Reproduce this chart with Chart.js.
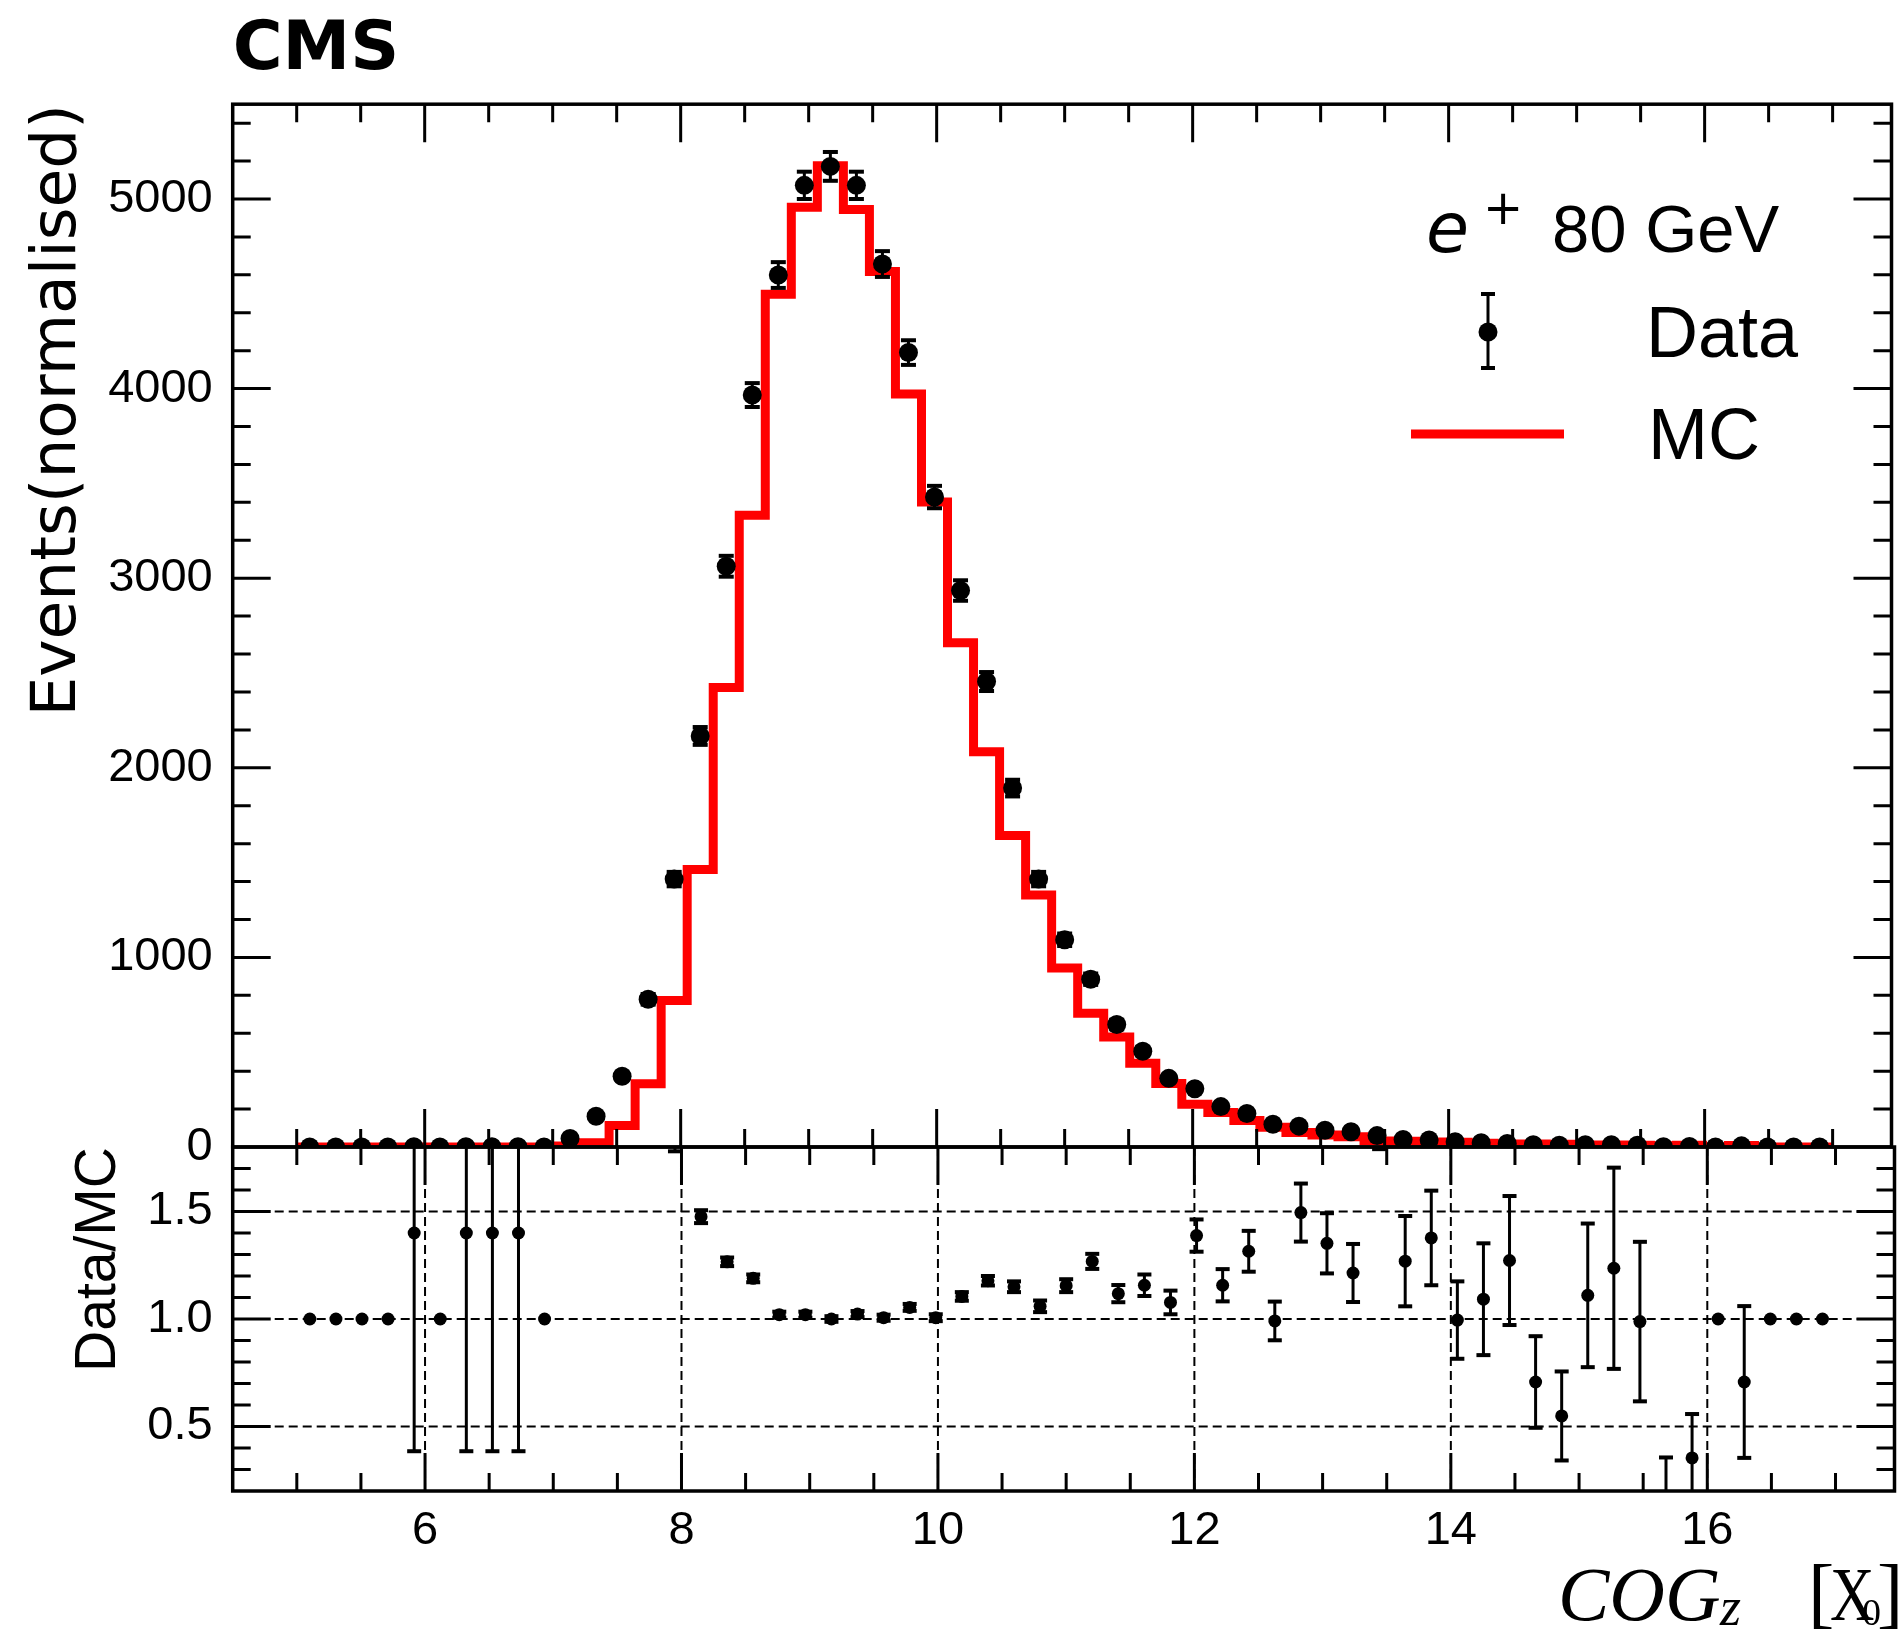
<!DOCTYPE html>
<html>
<head>
<meta charset="utf-8">
<script src="https://cdn.jsdelivr.net/npm/chart.js@4.4.1/dist/chart.umd.min.js"></script>
<style>
html,body{margin:0;padding:0;background:#fff;}
#wrap{position:relative;width:1901px;height:1631px;overflow:hidden;background:#fff;}
#mainWrap{position:absolute;left:0;top:0;width:1901px;height:1200px;}
#ratioWrap{position:absolute;left:0;top:1090px;width:1901px;height:541px;}
canvas{display:block;}
</style>
</head>
<body>
<div id="wrap">
  <div id="mainWrap"><canvas id="main" width="1901" height="1200"></canvas></div>
  <div id="ratioWrap"><canvas id="ratio" width="1901" height="541"></canvas></div>
</div>
<script>
// ---------------- data ----------------
const BIN_LOW = 5, BIN_HIGH = 17, N_BINS = 59;

const dataValues = [
  0, 0, 0, 0, 1.4, 0, 1.4, 1.4, 1.4, 0,
  45, 162, 373, 779, 1413, 2168, 3063, 3966, 4599, 5072,
  5172, 5072, 4657, 4190, 3428, 2935, 2455, 1893, 1413, 1093,
  885, 646, 505, 362, 307, 213, 177, 120, 110, 88,
  80, 60, 40, 37, 28, 22, 18, 12, 9, 12,
  12, 9, 1, 3, 0, 6, 0, 0, 0
];
const dataErrors = [
  0, 0, 0, 0, 1, 0, 1, 1, 1, 0,
  7, 13, 19, 28, 38, 47, 55, 63, 68, 72,
  76, 72, 68, 65, 59, 54, 50, 44, 38, 33,
  30, 25, 22, 19, 17, 15, 13, 11, 11, 9,
  9, 8, 6, 6, 5, 5, 4, 3, 3, 3,
  3, 3, 1, 2, 0, 3, 0, 0, 0
];
const mcValues = [
  0, 0, 0, 0, 0, 0, 0, 0, 0, 0,
  5, 23, 114, 334, 773, 1464, 2424, 3332, 4497, 4957,
  5175, 4944, 4618, 3972, 3402, 2660, 2085, 1643, 1329, 944,
  705, 580, 442, 335, 226, 182, 140, 104, 76, 63,
  54, 32, 30, 27, 25, 20, 15, 16, 15, 11,
  10, 9, 6, 9, 0, 8, 0, 0, 0
];
const ratioValues = [
  1.0, 1.0, 1.0, 1.0, 1.40, 1.0, 1.40, 1.40, 1.40, 1.0,
  9.0, 7.0, 3.27, 2.33, 1.83, 1.476, 1.266, 1.189, 1.020, 1.020,
  1.000, 1.023, 1.006, 1.054, 1.006, 1.105, 1.178, 1.150, 1.059, 1.155,
  1.268, 1.118, 1.157, 1.077, 1.388, 1.157, 1.315, 0.991, 1.495, 1.352,
  1.214, 1.97, 1.269, 1.377, 0.995, 1.092, 1.272, 0.707, 0.549, 1.110,
  1.236, 0.988, 0.10, 0.354, 1.0, 0.707, 1.0, 1.0, 1.0
];
const ratioErrors = [
  0, 0, 0, 0, 1.015, 0, 1.015, 1.015, 1.015, 0,
  2.0, 1.0, 0.2, 0.1, 0.05, 0.03, 0.02, 0.018, 0.014, 0.014,
  0.013, 0.014, 0.014, 0.016, 0.016, 0.02, 0.022, 0.025, 0.027, 0.03,
  0.035, 0.04, 0.05, 0.055, 0.075, 0.075, 0.095, 0.09, 0.135, 0.14,
  0.135, 0.18, 0.21, 0.22, 0.18, 0.26, 0.30, 0.213, 0.207, 0.334,
  0.468, 0.371, 0.256, 0.204, 0, 0.353, 0, 0, 0
];

const xTickValues = [6, 8, 10, 12, 14, 16];
const yTickValues = [0, 1000, 2000, 3000, 4000, 5000];
const ratioTickValues = [0.5, 1.0, 1.5];

const legendHeader = { particle: 'e', charge: '+', energy: '80 GeV' };
const legendLabels = ['Data', 'MC'];

const X_MIN = 4.5, X_MAX = 17.46;
const Y_MIN = 0, Y_MAX = 5500;
const R_MIN = 0.2, R_MAX = 1.8;

// ---------------- derived bin geometry ----------------
const binWidth = (BIN_HIGH - BIN_LOW) / N_BINS;
const binCenters = dataValues.map((_, i) => BIN_LOW + (i + 0.5) * binWidth);
const binEdges = Array.from({ length: N_BINS + 1 }, (_, i) => BIN_LOW + i * binWidth);
const mcStep = mcValues.map((v, i) => ({ x: binEdges[i], y: v }))
  .concat([{ x: binEdges[N_BINS], y: mcValues[N_BINS - 1] }]);

const LEFT_W = 232.7;
const BLACK = '#000000';
const RED = '#ff0000';

// ---------------- plugins ----------------
function makeFramePlugin(cfg) {
  return {
    id: 'frame_' + cfg.name,
    afterDraw(chart) {
      const { ctx, chartArea: a, scales } = chart;
      const xs = scales.x, ys = scales.y;
      const near = (arr, v) => arr.some(m => Math.abs(m - v) < 1e-6);
      ctx.save();
      ctx.strokeStyle = BLACK;
      ctx.lineCap = 'butt';
      ctx.lineWidth = 3;
      ctx.beginPath();
      for (let k = Math.ceil(xs.min / cfg.xMinor - 1e-9); k * cfg.xMinor <= xs.max + 1e-9; k++) {
        const v = k * cfg.xMinor;
        const px = xs.getPixelForValue(v);
        if (px < a.left + 3 || px > a.right - 3) continue;
        const len = near(cfg.xMajor, v) ? cfg.majorLen : cfg.minorLen;
        ctx.moveTo(px, a.top); ctx.lineTo(px, a.top + len);
        ctx.moveTo(px, a.bottom); ctx.lineTo(px, a.bottom - len);
      }
      for (let k = Math.ceil(ys.min / cfg.yMinor - 1e-9); k * cfg.yMinor <= ys.max + 1e-9; k++) {
        const v = k * cfg.yMinor;
        const py = ys.getPixelForValue(v);
        if (py < a.top + 3 || py > a.bottom - 3) continue;
        const len = near(cfg.yMajor, v) ? cfg.majorLen : cfg.minorLen;
        ctx.moveTo(a.left, py); ctx.lineTo(a.left + len, py);
        ctx.moveTo(a.right, py); ctx.lineTo(a.right - len, py);
      }
      ctx.stroke();
      ctx.lineWidth = 3.5;
      ctx.strokeRect(a.left, a.top, a.right - a.left, a.bottom - a.top);
      ctx.restore();
    }
  };
}

function makeErrorBarPlugin(name, values, errors, style) {
  return {
    id: 'errbars_' + name,
    afterDatasetsDraw(chart) {
      const { ctx, chartArea: a, scales } = chart;
      const xs = scales.x, ys = scales.y;
      ctx.save();
      ctx.beginPath();
      ctx.rect(a.left, a.top, a.right - a.left, a.bottom - a.top);
      ctx.clip();
      ctx.strokeStyle = BLACK;
      ctx.fillStyle = BLACK;
      ctx.lineWidth = style.lineWidth;
      values.forEach((v, i) => {
        const e = errors[i];
        if (v === null || !e) return;
        const px = xs.getPixelForValue(binCenters[i]);
        const pTop = ys.getPixelForValue(v + e);
        const pBot = ys.getPixelForValue(v - e);
        ctx.beginPath();
        ctx.moveTo(px, pTop); ctx.lineTo(px, pBot);
        ctx.stroke();
        if (Math.abs(pBot - pTop) > 2 * style.minBar) {
          ctx.fillRect(px - style.capW / 2, pTop - style.capT / 2, style.capW, style.capT);
          ctx.fillRect(px - style.capW / 2, pBot - style.capT / 2, style.capW, style.capT);
        }
      });
      ctx.restore();
    }
  };
}

const ratioGridPlugin = {
  id: 'ratioGrid',
  beforeDatasetsDraw(chart) {
    const { ctx, chartArea: a, scales } = chart;
    ctx.save();
    ctx.strokeStyle = BLACK;
    ctx.lineWidth = 2;
    ctx.setLineDash([9, 5]);
    xTickValues.forEach(v => {
      const px = scales.x.getPixelForValue(v);
      ctx.beginPath(); ctx.moveTo(px, a.top); ctx.lineTo(px, a.bottom); ctx.stroke();
    });
    ratioTickValues.forEach(v => {
      const py = scales.y.getPixelForValue(v);
      ctx.beginPath(); ctx.moveTo(a.left, py); ctx.lineTo(a.right, py); ctx.stroke();
    });
    ctx.restore();
  }
};

const legendPlugin = {
  id: 'hepLegend',
  afterDraw(chart) {
    const ctx = chart.ctx;
    ctx.save();
    ctx.fillStyle = BLACK;
    ctx.textAlign = 'left';
    ctx.textBaseline = 'alphabetic';
    ctx.font = 'italic 70px "DejaVu Sans"';
    ctx.fillText(legendHeader.particle, 1426, 252);
    ctx.font = '48px "DejaVu Sans"';
    ctx.textAlign = 'center';
    ctx.textBaseline = 'middle';
    ctx.fillText(legendHeader.charge, 1503, 212);
    ctx.textAlign = 'left';
    ctx.textBaseline = 'alphabetic';
    ctx.font = '67px "Liberation Sans"';
    ctx.fillText(legendHeader.energy, 1552, 252);

    // Data entry
    ctx.strokeStyle = BLACK;
    ctx.lineWidth = 3;
    ctx.beginPath(); ctx.moveTo(1488, 294); ctx.lineTo(1488, 368); ctx.stroke();
    ctx.fillRect(1481, 292, 14, 4);
    ctx.fillRect(1481, 366, 14, 4);
    ctx.beginPath(); ctx.arc(1488, 332, 9.5, 0, Math.PI * 2); ctx.fill();
    ctx.font = '72px "Liberation Sans"';
    ctx.fillText(legendLabels[0], 1646, 357);

    // MC entry
    ctx.fillStyle = RED;
    ctx.fillRect(1411, 429.5, 153, 9);
    ctx.fillStyle = BLACK;
    ctx.fillText(legendLabels[1], 1648, 459);
    ctx.restore();
  }
};

const xTitlePlugin = {
  id: 'xTitle',
  afterDraw(chart) {
    const ctx = chart.ctx;
    const base = 530;
    ctx.save();
    ctx.fillStyle = BLACK;
    ctx.textBaseline = 'alphabetic';
    ctx.textAlign = 'left';
    ctx.font = 'italic 77px "Liberation Serif"';
    ctx.fillText('COG', 1558, base);
    ctx.font = 'italic 54px "Liberation Serif"';
    ctx.fillText('z', 1720, base + 5);
    ctx.font = '79px "Liberation Serif"';
    ctx.fillText('[', 1808, base - 1.5);
    ctx.save();
    ctx.translate(1830, base);
    ctx.scale(0.8, 1);
    ctx.font = '77px "Liberation Serif"';
    ctx.fillText('X', 0, 0);
    ctx.restore();
    ctx.font = '38px "Liberation Serif"';
    ctx.fillText('0', 1862, base + 5);
    ctx.font = '79px "Liberation Serif"';
    ctx.fillText(']', 1877, base - 1.5);
    ctx.restore();
  }
};

const tickFont = { family: '"Liberation Sans"', size: 47, lineHeight: 1.2 };

// ---------------- main panel ----------------
new Chart(document.getElementById('main'), {
  type: 'line',
  data: {
    datasets: [
      {
        label: legendLabels[0],
        data: dataValues.map((v, i) => ({ x: binCenters[i], y: v })),
        showLine: false,
        pointStyle: 'circle',
        pointRadius: 9.5,
        pointHoverRadius: 9.5,
        pointBackgroundColor: BLACK,
        pointBorderWidth: 0,
        borderColor: BLACK,
        clip: 0,
        order: 0
      },
      {
        label: legendLabels[1],
        data: mcStep,
        stepped: true,
        borderColor: RED,
        borderWidth: 9,
        borderJoinStyle: 'miter',
        borderCapStyle: 'butt',
        pointRadius: 0,
        fill: false,
        clip: 0,
        order: 1
      }
    ]
  },
  options: {
    responsive: false,
    animation: false,
    events: [],
    layout: { padding: { left: 0, right: 3, top: 0, bottom: 53 } },
    plugins: {
      legend: { display: false },
      tooltip: { enabled: false },
      title: {
        display: true,
        text: 'CMS',
        align: 'start',
        fullSize: false,
        color: BLACK,
        font: { family: '"DejaVu Sans"', size: 68, weight: 'bold', lineHeight: 1.2 },
        padding: { top: 11, bottom: 11.6 }
      }
    },
    scales: {
      x: { type: 'linear', display: false, min: X_MIN, max: X_MAX },
      y: {
        type: 'linear',
        position: 'left',
        min: Y_MIN,
        max: Y_MAX,
        afterFit: s => { s.width = LEFT_W; },
        afterBuildTicks: s => { s.ticks = yTickValues.map(v => ({ value: v })); },
        grid: { display: false, drawTicks: false },
        border: { display: false },
        ticks: { color: BLACK, font: tickFont, padding: 20, callback: v => String(v) },
        title: {
          display: true,
          text: 'Events(normalised)',
          align: 'end',
          color: BLACK,
          font: { family: '"DejaVu Sans"', size: 63, lineHeight: 1.2 },
          padding: { top: 21, bottom: 0 }
        }
      }
    }
  },
  plugins: [
    makeErrorBarPlugin('main', dataValues, dataErrors, { lineWidth: 3, capW: 15, capT: 4, minBar: 1 }),
    makeFramePlugin({ name: 'main', xMinor: 0.5, yMinor: 200, xMajor: xTickValues, yMajor: yTickValues, majorLen: 38, minorLen: 18 }),
    legendPlugin
  ]
});

// ---------------- ratio panel ----------------
new Chart(document.getElementById('ratio'), {
  type: 'line',
  data: {
    datasets: [
      {
        label: 'Data/MC',
        data: ratioValues.map((v, i) => ({ x: binCenters[i], y: v })),
        showLine: false,
        pointStyle: 'circle',
        pointRadius: 6.5,
        pointHoverRadius: 6.5,
        pointBackgroundColor: BLACK,
        pointBorderWidth: 0,
        borderColor: BLACK,
        clip: 0
      }
    ]
  },
  options: {
    responsive: false,
    animation: false,
    events: [],
    layout: { padding: { left: 0, right: 3, top: 57, bottom: 0 } },
    plugins: { legend: { display: false }, tooltip: { enabled: false }, title: { display: false } },
    scales: {
      x: {
        type: 'linear',
        position: 'bottom',
        min: X_MIN,
        max: X_MAX,
        afterFit: s => { s.height = 140; },
        afterBuildTicks: s => { s.ticks = xTickValues.map(v => ({ value: v })); },
        grid: { display: false, drawTicks: false },
        border: { display: false },
        ticks: { color: BLACK, font: tickFont, padding: 12, maxRotation: 0, autoSkip: false, callback: v => String(v) }
      },
      y: {
        type: 'linear',
        position: 'left',
        min: R_MIN,
        max: R_MAX,
        afterFit: s => { s.width = LEFT_W; },
        afterBuildTicks: s => { s.ticks = ratioTickValues.map(v => ({ value: v })); },
        grid: { display: false, drawTicks: false },
        border: { display: false },
        ticks: { color: BLACK, font: tickFont, padding: 20, callback: v => Number(v).toFixed(1) },
        title: {
          display: true,
          text: 'Data/MC',
          align: 'end',
          color: BLACK,
          font: { family: '"Liberation Sans"', size: 57, lineHeight: 1.2 },
          padding: { top: 65, bottom: 0 }
        }
      }
    }
  },
  plugins: [
    ratioGridPlugin,
    makeErrorBarPlugin('ratio', ratioValues, ratioErrors, { lineWidth: 3, capW: 14, capT: 4, minBar: 1 }),
    makeFramePlugin({ name: 'ratio', xMinor: 0.5, yMinor: 0.1, xMajor: xTickValues, yMajor: ratioTickValues, majorLen: 38, minorLen: 18 }),
    xTitlePlugin
  ]
});
</script>
</body>
</html>
